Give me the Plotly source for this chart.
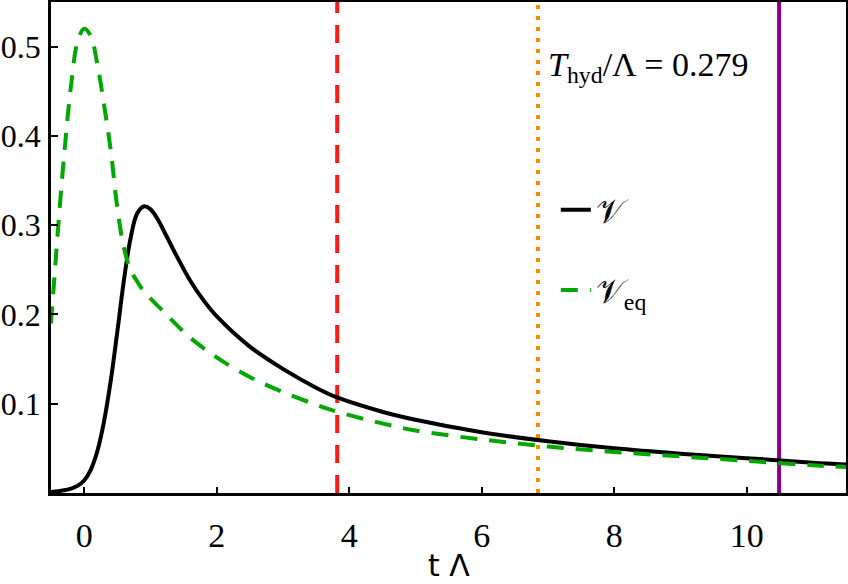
import plotly.graph_objects as go

# --- data ---
t_V = [-0.5, -0.4, -0.3, -0.2, -0.1, 0.0, 0.1, 0.2, 0.3, 0.4, 0.5, 0.6, 0.7, 0.8, 0.9,
       1.0, 1.1, 1.2, 1.4, 1.6, 1.8, 2.0, 2.5, 3.0, 3.5, 3.82, 4.5, 5.0, 6.0, 7.0, 8.0,
       9.0, 10.0, 11.0, 11.5]
V = [0.001, 0.002, 0.003, 0.005, 0.008, 0.014, 0.026, 0.047, 0.08, 0.125, 0.18, 0.238,
     0.285, 0.313, 0.321, 0.318, 0.308, 0.294, 0.265, 0.238, 0.216, 0.198, 0.164,
     0.139, 0.118, 0.107, 0.091, 0.082, 0.068, 0.058, 0.05, 0.044, 0.039, 0.034, 0.032]

t_Veq = [-0.5, -0.45, -0.4, -0.3, -0.2, -0.1, 0.0, 0.1, 0.2, 0.3, 0.4, 0.5, 0.6, 0.7,
         0.8, 0.9, 1.0, 1.2, 1.4, 1.6, 2.0, 2.5, 3.0, 3.5, 3.82, 4.5, 5.0, 6.0, 7.0,
         8.0, 9.0, 10.0, 11.0, 11.5]
Veq = [0.19, 0.24, 0.29, 0.38, 0.455, 0.505, 0.52, 0.512, 0.48, 0.435, 0.385, 0.32,
       0.275, 0.25, 0.237, 0.226, 0.218, 0.203, 0.188, 0.174, 0.152, 0.13, 0.113, 0.099,
       0.091, 0.078, 0.07, 0.06, 0.052, 0.046, 0.041, 0.036, 0.031, 0.029]

vline_t = [3.82, 6.85, 10.49]
vline_colors = ["#ff1a1a", "#ff8800", "#8b008b"]
vline_dash = ["18px,12px", "4px,7px", "solid"]

x_range = [-0.5, 11.5]
y_range = [0.0, 0.55]
x_ticks = [0, 2, 4, 6, 8, 10]
y_ticks = [0.1, 0.2, 0.3, 0.4, 0.5]
y_tick_text = ["0.1", "0.2", "0.3", "0.4", "0.5"]
label_text = "<i>T</i><sub>hyd</sub>/Λ = 0.279"
x_title = "t Λ"

fig = go.Figure()

for t, c, d in zip(vline_t, vline_colors, vline_dash):
    fig.add_trace(go.Scatter(x=[t, t], y=y_range, mode="lines", showlegend=False,
                             line=dict(color=c, width=4, dash=d), hoverinfo="skip"))

fig.add_trace(go.Scatter(x=t_V, y=V, mode="lines", name="𝒱", line_shape="spline",
                         line=dict(color="black", width=4), legendgroup="a"))
fig.add_trace(go.Scatter(x=t_Veq, y=Veq, mode="lines", name="𝒱<sub>eq</sub>",
                         line_shape="spline",
                         line=dict(color="#00a800", width=4, dash="17px,12px"),
                         legendgroup="b"))

serif = "Liberation Serif"
fig.update_layout(
    width=848, height=584,
    margin=dict(l=51, r=2, t=2, b=91),
    plot_bgcolor="white", paper_bgcolor="white",
    font=dict(family=serif, size=34, color="black"),
    showlegend=True,
    legend=dict(x=0.635, y=0.635, xanchor="left", yanchor="top",
                bgcolor="rgba(0,0,0,0)", font=dict(size=34, family=serif),
                tracegroupgap=33, traceorder="grouped"),
    xaxis=dict(range=x_range, tickvals=x_ticks, ticks="inside", ticklen=6,
               tickwidth=2, tickcolor="black", showline=True, linewidth=2.5,
               linecolor="black", mirror=True, showgrid=False, zeroline=False,
               ticklabelstandoff=10, automargin=False),
    yaxis=dict(range=y_range, tickvals=y_ticks, ticktext=y_tick_text, ticks="inside",
               ticklen=7, tickwidth=2, tickcolor="black", showline=True,
               linewidth=2.5, linecolor="black", mirror=True, showgrid=False,
               zeroline=False, ticklabelstandoff=1, automargin=False,
               tickfont=dict(size=32)),
    annotations=[
        dict(x=0.623, y=0.868, xref="paper", yref="paper", xanchor="left",
             yanchor="middle", text=label_text, showarrow=False,
             font=dict(family=serif, size=34)),
        dict(x=0.5, y=-0.148, xref="paper", yref="paper", xanchor="center",
             yanchor="middle", text=x_title, showarrow=False,
             font=dict(family="DejaVu Sans", size=30)),
    ],
)

fig.write_html("out.html")
